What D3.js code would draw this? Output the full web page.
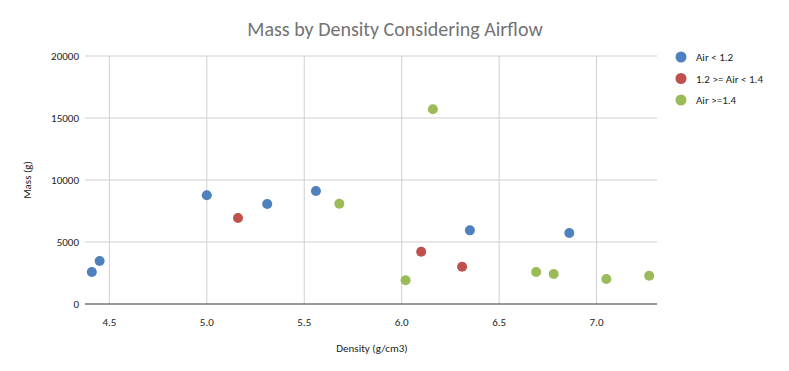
<!DOCTYPE html>
<html>
<head>
<script src="https://d3js.org/d3.v7.min.js"></script>
<style>
  body { margin: 0; background: #fff; }
  text { font-family: Carlito, Calibri, "Open Sans", sans-serif; }
</style>
</head>
<body>
<div id="chart"></div>
<script>
// series names and colours
const seriesNames = ["Air < 1.2", "1.2 >= Air < 1.4", "Air >=1.4"];
const seriesColors = ["#4f81bd", "#c0504d", "#9bbb59"];

// [density, mass] pairs per series
const airLow = [[4.41, 2580], [4.45, 3470], [5.0, 8770], [5.31, 8070], [5.56, 9110], [6.35, 5940], [6.86, 5730]];
const airMid = [[5.16, 6940], [6.10, 4220], [6.31, 3010]];
const airHigh = [[5.68, 8090], [6.16, 15700], [6.02, 1910], [6.69, 2580], [6.78, 2420], [7.05, 2020], [7.27, 2280]];

const xTicks = [4.5, 5.0, 5.5, 6.0, 6.5, 7.0];
const yTicks = [0, 5000, 10000, 15000, 20000];

const width = 789, height = 371;
const margin = { left: 85, right: 132, top: 56, bottom: 67 };

const svg = d3.select("#chart").append("svg")
  .attr("width", width).attr("height", height);

const x = d3.scaleLinear().domain([4.375, 7.31]).range([margin.left, width - margin.right]);
const y = d3.scaleLinear().domain([0, 20000]).range([height - margin.bottom, margin.top]);

// gridlines
svg.append("g").selectAll("line").data(xTicks).join("line")
  .attr("x1", d => x(d)).attr("x2", d => x(d))
  .attr("y1", y(20000)).attr("y2", y(0))
  .attr("stroke", "#cfcfcf").attr("stroke-width", 1);
svg.append("g").selectAll("line").data(yTicks.slice(1)).join("line")
  .attr("x1", x.range()[0]).attr("x2", x.range()[1])
  .attr("y1", d => y(d)).attr("y2", d => y(d))
  .attr("stroke", "#cfcfcf").attr("stroke-width", 1);

// x axis line + labels
svg.append("line")
  .attr("x1", x.range()[0]).attr("x2", x.range()[1])
  .attr("y1", y(0)).attr("y2", y(0))
  .attr("stroke", "#333").attr("stroke-width", 1);

svg.append("g").selectAll("text").data(xTicks).join("text")
  .attr("x", d => x(d)).attr("y", y(0) + 22)
  .attr("text-anchor", "middle").attr("font-size", 11).attr("fill", "#222")
  .text(d => d.toFixed(1));

svg.append("g").selectAll("text").data(yTicks).join("text")
  .attr("x", margin.left - 6).attr("y", d => y(d) + 4)
  .attr("text-anchor", "end").attr("font-size", 11).attr("fill", "#222")
  .text(d => d);

// axis titles
svg.append("text")
  .attr("x", 372).attr("y", 352)
  .attr("text-anchor", "middle").attr("font-size", 11).attr("fill", "#222")
  .text("Density (g/cm3)");
svg.append("text")
  .attr("transform", `translate(31,${(y(0) + y(20000)) / 2}) rotate(-90)`)
  .attr("text-anchor", "middle").attr("font-size", 11).attr("fill", "#222")
  .text("Mass (g)");

// title
svg.append("text")
  .attr("x", 395).attr("y", 36)
  .attr("text-anchor", "middle").attr("font-size", 20).attr("fill", "#737373")
  .text("Mass by Density Considering Airflow");

// points
[airLow, airMid, airHigh].forEach((pts, i) => {
  svg.append("g").selectAll("circle").data(pts).join("circle")
    .attr("cx", d => x(d[0])).attr("cy", d => y(d[1]))
    .attr("r", 5).attr("fill", seriesColors[i]);
});

// legend
const legend = svg.append("g").selectAll("g").data(seriesNames).join("g")
  .attr("transform", (d, i) => `translate(681,${57 + i * 21.5})`);
legend.append("circle").attr("r", 5.5).attr("fill", (d, i) => seriesColors[i]);
legend.append("text").attr("x", 15).attr("y", 4)
  .attr("font-size", 11).attr("fill", "#222").text(d => d);
</script>
</body>
</html>
